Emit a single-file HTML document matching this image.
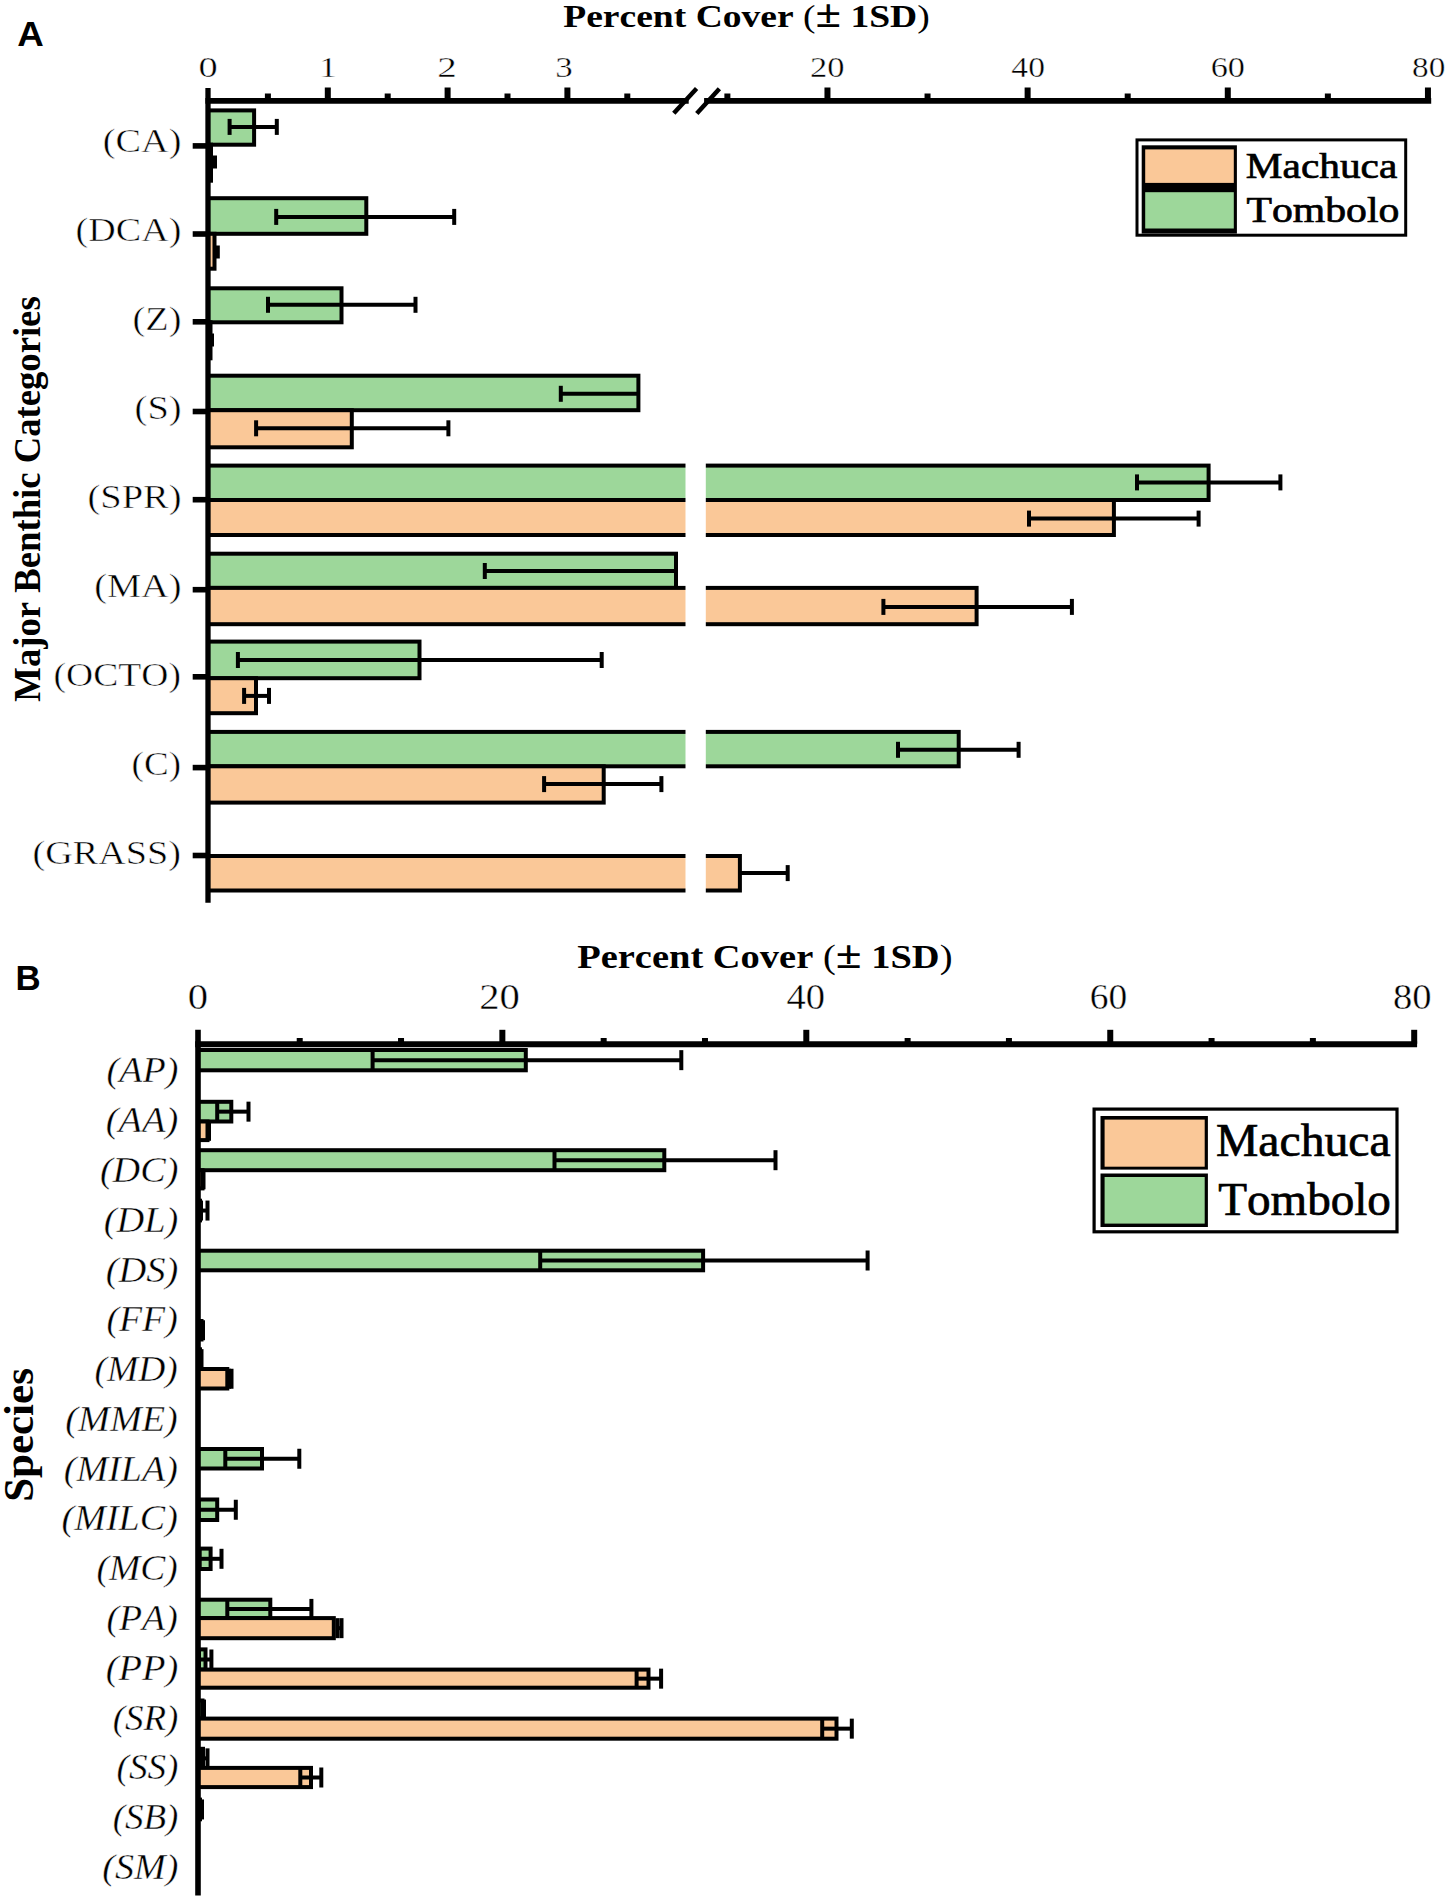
<!DOCTYPE html><html><head><meta charset="utf-8"><style>html,body{margin:0;padding:0;background:#fff;overflow:hidden;}svg{display:block;}text{font-family:"Liberation Serif",serif;fill:#000;}</style></head><body>
<svg width="1450" height="1900" viewBox="0 0 1450 1900">
<rect x="0" y="0" width="1450" height="1900" fill="#fff"/>
<rect x="208.00" y="110.40" width="46.10" height="34.30" fill="#9DD79A" stroke="#000" stroke-width="4"/>
<line x1="229.60" y1="126.90" x2="276.80" y2="126.90" stroke="#000" stroke-width="4"/>
<rect x="227.60" y="118.90" width="4" height="16" fill="#000"/>
<rect x="274.80" y="118.90" width="4" height="16" fill="#000"/>
<rect x="208.00" y="144.70" width="3.00" height="36.00" fill="#FAC898" stroke="#000" stroke-width="4"/>
<line x1="209.50" y1="162.00" x2="215.00" y2="162.00" stroke="#000" stroke-width="4"/>
<rect x="207.50" y="155.50" width="4" height="13" fill="#000"/>
<rect x="213.00" y="155.50" width="4" height="13" fill="#000"/>
<rect x="208.00" y="198.20" width="158.30" height="35.60" fill="#9DD79A" stroke="#000" stroke-width="4"/>
<line x1="276.20" y1="216.90" x2="454.20" y2="216.90" stroke="#000" stroke-width="4"/>
<rect x="274.20" y="208.90" width="4" height="16" fill="#000"/>
<rect x="452.20" y="208.90" width="4" height="16" fill="#000"/>
<rect x="208.00" y="233.80" width="6.50" height="34.90" fill="#FAC898" stroke="#000" stroke-width="4"/>
<line x1="214.50" y1="252.00" x2="217.80" y2="252.00" stroke="#000" stroke-width="4"/>
<rect x="215.80" y="245.50" width="4" height="13" fill="#000"/>
<rect x="208.00" y="288.30" width="133.50" height="34.00" fill="#9DD79A" stroke="#000" stroke-width="4"/>
<line x1="268.00" y1="304.80" x2="415.50" y2="304.80" stroke="#000" stroke-width="4"/>
<rect x="266.00" y="296.80" width="4" height="16" fill="#000"/>
<rect x="413.50" y="296.80" width="4" height="16" fill="#000"/>
<rect x="208.00" y="322.30" width="2.50" height="36.00" fill="#FAC898" stroke="#000" stroke-width="4"/>
<line x1="210.00" y1="340.00" x2="212.00" y2="340.00" stroke="#000" stroke-width="4"/>
<rect x="208.00" y="333.50" width="4" height="13" fill="#000"/>
<rect x="210.00" y="333.50" width="4" height="13" fill="#000"/>
<rect x="208.00" y="375.70" width="430.40" height="34.50" fill="#9DD79A" stroke="#000" stroke-width="4"/>
<line x1="560.80" y1="393.80" x2="638.40" y2="393.80" stroke="#000" stroke-width="4"/>
<rect x="558.80" y="385.80" width="4" height="16" fill="#000"/>
<rect x="208.00" y="410.20" width="143.80" height="37.10" fill="#FAC898" stroke="#000" stroke-width="4"/>
<line x1="256.10" y1="428.30" x2="448.40" y2="428.30" stroke="#000" stroke-width="4"/>
<rect x="254.10" y="420.30" width="4" height="16" fill="#000"/>
<rect x="446.40" y="420.30" width="4" height="16" fill="#000"/>
<rect x="208.00" y="465.60" width="1000.60" height="34.40" fill="#9DD79A" stroke="#000" stroke-width="4"/>
<line x1="1137.00" y1="482.40" x2="1280.40" y2="482.40" stroke="#000" stroke-width="4"/>
<rect x="1135.00" y="474.40" width="4" height="16" fill="#000"/>
<rect x="1278.40" y="474.40" width="4" height="16" fill="#000"/>
<rect x="208.00" y="500.00" width="905.90" height="35.00" fill="#FAC898" stroke="#000" stroke-width="4"/>
<line x1="1029.00" y1="518.60" x2="1198.60" y2="518.60" stroke="#000" stroke-width="4"/>
<rect x="1027.00" y="510.60" width="4" height="16" fill="#000"/>
<rect x="1196.60" y="510.60" width="4" height="16" fill="#000"/>
<rect x="208.00" y="553.70" width="468.00" height="34.20" fill="#9DD79A" stroke="#000" stroke-width="4"/>
<line x1="484.80" y1="571.00" x2="676.00" y2="571.00" stroke="#000" stroke-width="4"/>
<rect x="482.80" y="563.00" width="4" height="16" fill="#000"/>
<rect x="208.00" y="587.90" width="768.60" height="36.30" fill="#FAC898" stroke="#000" stroke-width="4"/>
<line x1="883.40" y1="606.90" x2="1071.90" y2="606.90" stroke="#000" stroke-width="4"/>
<rect x="881.40" y="598.90" width="4" height="16" fill="#000"/>
<rect x="1069.90" y="598.90" width="4" height="16" fill="#000"/>
<rect x="208.00" y="641.60" width="211.50" height="36.60" fill="#9DD79A" stroke="#000" stroke-width="4"/>
<line x1="237.90" y1="660.00" x2="601.70" y2="660.00" stroke="#000" stroke-width="4"/>
<rect x="235.90" y="652.00" width="4" height="16" fill="#000"/>
<rect x="599.70" y="652.00" width="4" height="16" fill="#000"/>
<rect x="208.00" y="678.20" width="48.00" height="35.00" fill="#FAC898" stroke="#000" stroke-width="4"/>
<line x1="244.10" y1="695.90" x2="269.00" y2="695.90" stroke="#000" stroke-width="4"/>
<rect x="242.10" y="687.90" width="4" height="16" fill="#000"/>
<rect x="267.00" y="687.90" width="4" height="16" fill="#000"/>
<rect x="208.00" y="731.90" width="750.70" height="34.40" fill="#9DD79A" stroke="#000" stroke-width="4"/>
<line x1="898.00" y1="749.80" x2="1018.60" y2="749.80" stroke="#000" stroke-width="4"/>
<rect x="896.00" y="741.80" width="4" height="16" fill="#000"/>
<rect x="1016.60" y="741.80" width="4" height="16" fill="#000"/>
<rect x="208.00" y="766.30" width="395.70" height="36.30" fill="#FAC898" stroke="#000" stroke-width="4"/>
<line x1="544.10" y1="784.10" x2="661.40" y2="784.10" stroke="#000" stroke-width="4"/>
<rect x="542.10" y="776.10" width="4" height="16" fill="#000"/>
<rect x="659.40" y="776.10" width="4" height="16" fill="#000"/>
<rect x="208.00" y="856.00" width="531.90" height="34.50" fill="#FAC898" stroke="#000" stroke-width="4"/>
<line x1="739.90" y1="873.10" x2="787.70" y2="873.10" stroke="#000" stroke-width="4"/>
<rect x="785.70" y="865.10" width="4" height="16" fill="#000"/>
<rect x="685.5" y="106" width="20.3" height="790" fill="#fff"/>
<line x1="208.0" y1="88" x2="208.0" y2="902.7" stroke="#000" stroke-width="5.3"/>
<line x1="205.4" y1="100.9" x2="688.7" y2="100.9" stroke="#000" stroke-width="5.8"/>
<line x1="704.1" y1="100.9" x2="1431.2" y2="100.9" stroke="#000" stroke-width="5.8"/>
<line x1="673.8" y1="113.2" x2="696.6" y2="88.4" stroke="#000" stroke-width="4.5"/>
<line x1="696.8" y1="113.4" x2="719.4" y2="88.8" stroke="#000" stroke-width="4.5"/>
<rect x="324.80" y="87.5" width="6" height="13" fill="#000"/>
<rect x="444.60" y="87.5" width="6" height="13" fill="#000"/>
<rect x="564.40" y="87.5" width="6" height="13" fill="#000"/>
<rect x="824.46" y="87.5" width="6" height="13" fill="#000"/>
<rect x="1024.62" y="87.5" width="6" height="13" fill="#000"/>
<rect x="1224.78" y="87.5" width="6" height="13" fill="#000"/>
<rect x="1424.94" y="87.5" width="6" height="13" fill="#000"/>
<rect x="264.90" y="93.5" width="6" height="7" fill="#000"/>
<rect x="384.70" y="93.5" width="6" height="7" fill="#000"/>
<rect x="504.50" y="93.5" width="6" height="7" fill="#000"/>
<rect x="624.30" y="93.5" width="6" height="7" fill="#000"/>
<rect x="724.38" y="93.5" width="6" height="7" fill="#000"/>
<rect x="924.54" y="93.5" width="6" height="7" fill="#000"/>
<rect x="1124.70" y="93.5" width="6" height="7" fill="#000"/>
<rect x="1324.86" y="93.5" width="6" height="7" fill="#000"/>
<rect x="192.7" y="143.10" width="14" height="5.6" fill="#000"/>
<rect x="192.7" y="231.20" width="14" height="5.6" fill="#000"/>
<rect x="192.7" y="319.00" width="14" height="5.6" fill="#000"/>
<rect x="192.7" y="408.70" width="14" height="5.6" fill="#000"/>
<rect x="192.7" y="496.90" width="14" height="5.6" fill="#000"/>
<rect x="192.7" y="586.90" width="14" height="5.6" fill="#000"/>
<rect x="192.7" y="674.00" width="14" height="5.6" fill="#000"/>
<rect x="192.7" y="764.80" width="14" height="5.6" fill="#000"/>
<rect x="192.7" y="852.70" width="14" height="5.6" fill="#000"/>
<text transform="translate(208.00,77.30) scale(1.2804,1)" text-anchor="middle" style="font-size:30px;font-kerning:none;stroke:#fff;stroke-width:0.4px;">0</text>
<text transform="translate(327.90,77.30) scale(1.1897,1)" text-anchor="middle" style="font-size:30px;font-kerning:none;stroke:#fff;stroke-width:0.4px;">1</text>
<text transform="translate(446.90,77.30) scale(1.3024,1)" text-anchor="middle" style="font-size:30px;font-kerning:none;stroke:#fff;stroke-width:0.4px;">2</text>
<text transform="translate(564.00,77.30) scale(1.1635,1)" text-anchor="middle" style="font-size:30px;font-kerning:none;stroke:#fff;stroke-width:0.4px;">3</text>
<text transform="translate(827.16,77.30) scale(1.1499,1)" text-anchor="middle" style="font-size:30px;font-kerning:none;stroke:#fff;stroke-width:0.4px;">20</text>
<text transform="translate(1028.12,77.30) scale(1.1176,1)" text-anchor="middle" style="font-size:30px;font-kerning:none;stroke:#fff;stroke-width:0.4px;">40</text>
<text transform="translate(1227.78,77.30) scale(1.1429,1)" text-anchor="middle" style="font-size:30px;font-kerning:none;stroke:#fff;stroke-width:0.4px;">60</text>
<text transform="translate(1428.64,77.30) scale(1.1081,1)" text-anchor="middle" style="font-size:30px;font-kerning:none;stroke:#fff;stroke-width:0.4px;">80</text>
<text transform="translate(181.40,152.40) scale(1.1378,1)" text-anchor="end" style="font-size:33.6px;font-kerning:none;stroke:#fff;stroke-width:0.5px;">(CA)</text>
<text transform="translate(181.40,241.31) scale(1.1345,1)" text-anchor="end" style="font-size:33.6px;font-kerning:none;stroke:#fff;stroke-width:0.5px;">(DCA)</text>
<text transform="translate(181.40,330.22) scale(1.1387,1)" text-anchor="end" style="font-size:33.6px;font-kerning:none;stroke:#fff;stroke-width:0.5px;">(Z)</text>
<text transform="translate(181.60,419.13) scale(1.1443,1)" text-anchor="end" style="font-size:33.6px;font-kerning:none;stroke:#fff;stroke-width:0.5px;">(S)</text>
<text transform="translate(181.60,508.04) scale(1.1454,1)" text-anchor="end" style="font-size:33.6px;font-kerning:none;stroke:#fff;stroke-width:0.5px;">(SPR)</text>
<text transform="translate(181.60,596.95) scale(1.1434,1)" text-anchor="end" style="font-size:33.6px;font-kerning:none;stroke:#fff;stroke-width:0.5px;">(MA)</text>
<text transform="translate(181.00,685.86) scale(1.1198,1)" text-anchor="end" style="font-size:33.6px;font-kerning:none;stroke:#fff;stroke-width:0.5px;">(OCTO)</text>
<text transform="translate(181.00,774.77) scale(1.1033,1)" text-anchor="end" style="font-size:33.6px;font-kerning:none;stroke:#fff;stroke-width:0.5px;">(C)</text>
<text transform="translate(181.00,863.68) scale(1.1361,1)" text-anchor="end" style="font-size:33.6px;font-kerning:none;stroke:#fff;stroke-width:0.5px;">(GRASS)</text>
<text transform="translate(746.50,26.70) scale(1.1923,1)" text-anchor="middle" style="font-size:31.5px;font-kerning:none;font-weight:bold;">Percent Cover <tspan style="font-weight:normal">(</tspan><tspan style="font-size:39px">±</tspan> 1SD<tspan style="font-weight:normal">)</tspan></text>
<text transform="translate(39.70,499.00) rotate(-90) scale(0.9917,1)" text-anchor="middle" style="font-size:37px;font-kerning:none;font-weight:bold;">Major Benthic Categories</text>
<text transform="translate(17.30,46.00) scale(1.0211,1)" text-anchor="start" style="font-size:36px;font-kerning:none;font-weight:bold;font-family:'Liberation Sans',sans-serif;">A</text>
<rect x="1137" y="139.9" width="268.7" height="95.3" fill="#fff" stroke="#000" stroke-width="3"/>
<rect x="1141.7" y="145.3" width="95.2" height="88.3" fill="#000"/>
<rect x="1145.2" y="149.4" width="88.6" height="33.5" fill="#FAC898"/>
<rect x="1145.2" y="192.2" width="88.6" height="36.3" fill="#9DD79A"/>
<text transform="translate(1245.80,177.80) scale(1.1482,1)" text-anchor="start" style="font-size:36px;font-kerning:none;stroke:#000;stroke-width:0.7px;">Machuca</text>
<text transform="translate(1246.40,222.20) scale(1.1590,1)" text-anchor="start" style="font-size:36px;font-kerning:none;stroke:#000;stroke-width:0.7px;">Tombolo</text>
<rect x="198.00" y="1050.00" width="327.80" height="20.30" fill="#9DD79A" stroke="#000" stroke-width="4"/>
<line x1="372.60" y1="1060.15" x2="681.30" y2="1060.15" stroke="#000" stroke-width="4"/>
<rect x="370.60" y="1050.15" width="4" height="20" fill="#000"/>
<rect x="679.30" y="1050.15" width="4" height="20" fill="#000"/>
<rect x="198.00" y="1101.80" width="33.30" height="19.70" fill="#9DD79A" stroke="#000" stroke-width="4"/>
<line x1="217.20" y1="1111.65" x2="248.50" y2="1111.65" stroke="#000" stroke-width="4"/>
<rect x="215.20" y="1101.65" width="4" height="20" fill="#000"/>
<rect x="246.50" y="1101.65" width="4" height="20" fill="#000"/>
<rect x="198.00" y="1121.50" width="9.50" height="18.60" fill="#FAC898" stroke="#000" stroke-width="4"/>
<line x1="207.50" y1="1130.80" x2="209.00" y2="1130.80" stroke="#000" stroke-width="4"/>
<rect x="207.00" y="1120.80" width="4" height="20" fill="#000"/>
<rect x="198.00" y="1150.20" width="466.30" height="20.00" fill="#9DD79A" stroke="#000" stroke-width="4"/>
<line x1="554.50" y1="1160.20" x2="775.50" y2="1160.20" stroke="#000" stroke-width="4"/>
<rect x="552.50" y="1150.20" width="4" height="20" fill="#000"/>
<rect x="773.50" y="1150.20" width="4" height="20" fill="#000"/>
<rect x="198.00" y="1170.20" width="4.50" height="18.20" fill="#FAC898" stroke="#000" stroke-width="4"/>
<line x1="202.50" y1="1179.30" x2="203.50" y2="1179.30" stroke="#000" stroke-width="4"/>
<rect x="201.50" y="1169.30" width="4" height="20" fill="#000"/>
<rect x="198.00" y="1200.70" width="2.00" height="19.70" fill="#9DD79A" stroke="#000" stroke-width="4"/>
<line x1="201.00" y1="1210.55" x2="207.50" y2="1210.55" stroke="#000" stroke-width="4"/>
<rect x="199.00" y="1200.55" width="4" height="20" fill="#000"/>
<rect x="205.50" y="1200.55" width="4" height="20" fill="#000"/>
<rect x="198.00" y="1250.70" width="505.10" height="19.60" fill="#9DD79A" stroke="#000" stroke-width="4"/>
<line x1="540.20" y1="1260.50" x2="867.60" y2="1260.50" stroke="#000" stroke-width="4"/>
<rect x="538.20" y="1250.50" width="4" height="20" fill="#000"/>
<rect x="865.60" y="1250.50" width="4" height="20" fill="#000"/>
<rect x="198.00" y="1321.00" width="3.50" height="18.50" fill="#FAC898" stroke="#000" stroke-width="4"/>
<line x1="201.50" y1="1330.25" x2="203.00" y2="1330.25" stroke="#000" stroke-width="4"/>
<rect x="201.00" y="1320.25" width="4" height="20" fill="#000"/>
<rect x="198.00" y="1349.30" width="2.00" height="19.70" fill="#9DD79A" stroke="#000" stroke-width="4"/>
<line x1="200.00" y1="1359.15" x2="201.50" y2="1359.15" stroke="#000" stroke-width="4"/>
<rect x="199.50" y="1349.15" width="4" height="20" fill="#000"/>
<rect x="198.00" y="1369.00" width="29.30" height="19.50" fill="#FAC898" stroke="#000" stroke-width="4"/>
<line x1="229.00" y1="1378.75" x2="231.50" y2="1378.75" stroke="#000" stroke-width="4"/>
<rect x="227.00" y="1368.75" width="4" height="20" fill="#000"/>
<rect x="229.50" y="1368.75" width="4" height="20" fill="#000"/>
<rect x="198.00" y="1449.00" width="64.00" height="19.50" fill="#9DD79A" stroke="#000" stroke-width="4"/>
<line x1="225.30" y1="1458.75" x2="299.30" y2="1458.75" stroke="#000" stroke-width="4"/>
<rect x="223.30" y="1448.75" width="4" height="20" fill="#000"/>
<rect x="297.30" y="1448.75" width="4" height="20" fill="#000"/>
<rect x="198.00" y="1499.50" width="19.20" height="20.50" fill="#9DD79A" stroke="#000" stroke-width="4"/>
<line x1="198.60" y1="1509.75" x2="235.80" y2="1509.75" stroke="#000" stroke-width="4"/>
<rect x="196.60" y="1499.75" width="4" height="20" fill="#000"/>
<rect x="233.80" y="1499.75" width="4" height="20" fill="#000"/>
<rect x="198.00" y="1548.60" width="12.60" height="20.40" fill="#9DD79A" stroke="#000" stroke-width="4"/>
<line x1="199.70" y1="1558.80" x2="221.50" y2="1558.80" stroke="#000" stroke-width="4"/>
<rect x="197.70" y="1548.80" width="4" height="20" fill="#000"/>
<rect x="219.50" y="1548.80" width="4" height="20" fill="#000"/>
<rect x="198.00" y="1599.70" width="72.30" height="18.40" fill="#9DD79A" stroke="#000" stroke-width="4"/>
<line x1="227.30" y1="1608.90" x2="311.40" y2="1608.90" stroke="#000" stroke-width="4"/>
<rect x="225.30" y="1598.90" width="4" height="20" fill="#000"/>
<rect x="309.40" y="1598.90" width="4" height="20" fill="#000"/>
<rect x="198.00" y="1618.10" width="135.80" height="20.10" fill="#FAC898" stroke="#000" stroke-width="4"/>
<line x1="337.50" y1="1628.15" x2="341.50" y2="1628.15" stroke="#000" stroke-width="4"/>
<rect x="335.50" y="1618.15" width="4" height="20" fill="#000"/>
<rect x="339.50" y="1618.15" width="4" height="20" fill="#000"/>
<rect x="198.00" y="1649.40" width="7.50" height="20.20" fill="#9DD79A" stroke="#000" stroke-width="4"/>
<line x1="199.00" y1="1659.50" x2="211.40" y2="1659.50" stroke="#000" stroke-width="4"/>
<rect x="197.00" y="1649.50" width="4" height="20" fill="#000"/>
<rect x="209.40" y="1649.50" width="4" height="20" fill="#000"/>
<rect x="198.00" y="1669.60" width="450.50" height="18.10" fill="#FAC898" stroke="#000" stroke-width="4"/>
<line x1="636.60" y1="1678.65" x2="661.10" y2="1678.65" stroke="#000" stroke-width="4"/>
<rect x="634.60" y="1668.65" width="4" height="20" fill="#000"/>
<rect x="659.10" y="1668.65" width="4" height="20" fill="#000"/>
<rect x="198.00" y="1700.50" width="4.50" height="18.10" fill="#9DD79A" stroke="#000" stroke-width="4"/>
<line x1="202.50" y1="1709.55" x2="204.00" y2="1709.55" stroke="#000" stroke-width="4"/>
<rect x="202.00" y="1699.55" width="4" height="20" fill="#000"/>
<rect x="198.00" y="1718.60" width="638.50" height="20.10" fill="#FAC898" stroke="#000" stroke-width="4"/>
<line x1="822.20" y1="1728.65" x2="851.80" y2="1728.65" stroke="#000" stroke-width="4"/>
<rect x="820.20" y="1718.65" width="4" height="20" fill="#000"/>
<rect x="849.80" y="1718.65" width="4" height="20" fill="#000"/>
<rect x="198.00" y="1748.80" width="5.00" height="19.10" fill="#9DD79A" stroke="#000" stroke-width="4"/>
<line x1="199.00" y1="1758.35" x2="207.50" y2="1758.35" stroke="#000" stroke-width="4"/>
<rect x="197.00" y="1748.35" width="4" height="20" fill="#000"/>
<rect x="205.50" y="1748.35" width="4" height="20" fill="#000"/>
<rect x="198.00" y="1767.90" width="113.00" height="19.20" fill="#FAC898" stroke="#000" stroke-width="4"/>
<line x1="300.30" y1="1777.50" x2="321.30" y2="1777.50" stroke="#000" stroke-width="4"/>
<rect x="298.30" y="1767.50" width="4" height="20" fill="#000"/>
<rect x="319.30" y="1767.50" width="4" height="20" fill="#000"/>
<rect x="198.00" y="1799.60" width="2.00" height="19.70" fill="#9DD79A" stroke="#000" stroke-width="4"/>
<line x1="200.00" y1="1809.45" x2="202.00" y2="1809.45" stroke="#000" stroke-width="4"/>
<rect x="200.00" y="1799.45" width="4" height="20" fill="#000"/>
<line x1="198.0" y1="1029.7" x2="198.0" y2="1895.5" stroke="#000" stroke-width="5.6"/>
<line x1="195.2" y1="1044.3" x2="1417.1" y2="1044.3" stroke="#000" stroke-width="6"/>
<rect x="296.72" y="1038" width="6" height="6" fill="#000"/>
<rect x="398.03" y="1038" width="6" height="6" fill="#000"/>
<rect x="499.35" y="1029.8" width="6" height="14" fill="#000"/>
<rect x="600.67" y="1038" width="6" height="6" fill="#000"/>
<rect x="701.98" y="1038" width="6" height="6" fill="#000"/>
<rect x="803.30" y="1029.8" width="6" height="14" fill="#000"/>
<rect x="904.62" y="1038" width="6" height="6" fill="#000"/>
<rect x="1005.93" y="1038" width="6" height="6" fill="#000"/>
<rect x="1107.25" y="1029.8" width="6" height="14" fill="#000"/>
<rect x="1208.57" y="1038" width="6" height="6" fill="#000"/>
<rect x="1309.88" y="1038" width="6" height="6" fill="#000"/>
<rect x="1411.20" y="1029.8" width="6" height="14" fill="#000"/>
<text transform="translate(197.80,1008.80) scale(1.1242,1)" text-anchor="middle" style="font-size:36.2px;font-kerning:none;stroke:#fff;stroke-width:0.4px;">0</text>
<text transform="translate(499.55,1008.80) scale(1.1233,1)" text-anchor="middle" style="font-size:36.2px;font-kerning:none;stroke:#fff;stroke-width:0.4px;">20</text>
<text transform="translate(805.80,1008.80) scale(1.0664,1)" text-anchor="middle" style="font-size:36.2px;font-kerning:none;stroke:#fff;stroke-width:0.4px;">40</text>
<text transform="translate(1108.45,1008.80) scale(1.0345,1)" text-anchor="middle" style="font-size:36.2px;font-kerning:none;stroke:#fff;stroke-width:0.4px;">60</text>
<text transform="translate(1412.20,1008.80) scale(1.0666,1)" text-anchor="middle" style="font-size:36.2px;font-kerning:none;stroke:#fff;stroke-width:0.4px;">80</text>
<text transform="translate(178.40,1082.40) scale(1.0421,1)" text-anchor="end" style="font-size:36.5px;font-kerning:none;font-style:italic;stroke:#fff;stroke-width:0.4px;">(AP)</text>
<text transform="translate(178.40,1132.18) scale(1.0547,1)" text-anchor="end" style="font-size:36.5px;font-kerning:none;font-style:italic;stroke:#fff;stroke-width:0.4px;">(AA)</text>
<text transform="translate(178.40,1181.96) scale(1.0469,1)" text-anchor="end" style="font-size:36.5px;font-kerning:none;font-style:italic;stroke:#fff;stroke-width:0.4px;">(DC)</text>
<text transform="translate(178.40,1231.74) scale(1.0525,1)" text-anchor="end" style="font-size:36.5px;font-kerning:none;font-style:italic;stroke:#fff;stroke-width:0.4px;">(DL)</text>
<text transform="translate(178.40,1281.52) scale(1.0547,1)" text-anchor="end" style="font-size:36.5px;font-kerning:none;font-style:italic;stroke:#fff;stroke-width:0.4px;">(DS)</text>
<text transform="translate(177.80,1331.30) scale(1.0363,1)" text-anchor="end" style="font-size:36.5px;font-kerning:none;font-style:italic;stroke:#fff;stroke-width:0.4px;">(FF)</text>
<text transform="translate(177.80,1381.08) scale(1.0280,1)" text-anchor="end" style="font-size:36.5px;font-kerning:none;font-style:italic;stroke:#fff;stroke-width:0.4px;">(MD)</text>
<text transform="translate(177.80,1430.86) scale(1.0474,1)" text-anchor="end" style="font-size:36.5px;font-kerning:none;font-style:italic;stroke:#fff;stroke-width:0.4px;">(MME)</text>
<text transform="translate(177.80,1480.64) scale(1.0428,1)" text-anchor="end" style="font-size:36.5px;font-kerning:none;font-style:italic;stroke:#fff;stroke-width:0.4px;">(MILA)</text>
<text transform="translate(177.80,1530.42) scale(1.0420,1)" text-anchor="end" style="font-size:36.5px;font-kerning:none;font-style:italic;stroke:#fff;stroke-width:0.4px;">(MILC)</text>
<text transform="translate(177.80,1580.20) scale(1.0287,1)" text-anchor="end" style="font-size:36.5px;font-kerning:none;font-style:italic;stroke:#fff;stroke-width:0.4px;">(MC)</text>
<text transform="translate(177.80,1629.98) scale(1.0363,1)" text-anchor="end" style="font-size:36.5px;font-kerning:none;font-style:italic;stroke:#fff;stroke-width:0.4px;">(PA)</text>
<text transform="translate(178.40,1679.76) scale(1.0547,1)" text-anchor="end" style="font-size:36.5px;font-kerning:none;font-style:italic;stroke:#fff;stroke-width:0.4px;">(PP)</text>
<text transform="translate(178.40,1729.54) scale(1.0130,1)" text-anchor="end" style="font-size:36.5px;font-kerning:none;font-style:italic;stroke:#fff;stroke-width:0.4px;">(SR)</text>
<text transform="translate(178.40,1779.32) scale(1.0172,1)" text-anchor="end" style="font-size:36.5px;font-kerning:none;font-style:italic;stroke:#fff;stroke-width:0.4px;">(SS)</text>
<text transform="translate(178.40,1829.10) scale(1.0130,1)" text-anchor="end" style="font-size:36.5px;font-kerning:none;font-style:italic;stroke:#fff;stroke-width:0.4px;">(SB)</text>
<text transform="translate(178.40,1878.88) scale(1.0428,1)" text-anchor="end" style="font-size:36.5px;font-kerning:none;font-style:italic;stroke:#fff;stroke-width:0.4px;">(SM)</text>
<text transform="translate(764.80,968.20) scale(1.1491,1)" text-anchor="middle" style="font-size:33.5px;font-kerning:none;font-weight:bold;">Percent Cover <tspan style="font-weight:normal">(</tspan><tspan style="font-size:41px">±</tspan> 1SD<tspan style="font-weight:normal">)</tspan></text>
<text transform="translate(33.40,1435.00) rotate(-90) scale(0.9999,1)" text-anchor="middle" style="font-size:43px;font-kerning:none;font-weight:bold;">Species</text>
<text transform="translate(15.60,989.50) scale(0.9959,1)" text-anchor="start" style="font-size:35px;font-kerning:none;font-weight:bold;font-family:'Liberation Sans',sans-serif;">B</text>
<rect x="1094.1" y="1109.1" width="302.9" height="122.7" fill="#fff" stroke="#000" stroke-width="3.2"/>
<rect x="1100.5" y="1116" width="107.4" height="53.6" fill="#000"/>
<rect x="1104.6" y="1119.6" width="100.1" height="47.1" fill="#FAC898"/>
<rect x="1100.5" y="1173.5" width="107.4" height="53.5" fill="#000"/>
<rect x="1104.6" y="1177" width="100.1" height="46.6" fill="#9DD79A"/>
<text transform="translate(1216.00,1156.00) scale(1.0474,1)" text-anchor="start" style="font-size:45.5px;font-kerning:none;stroke:#000;stroke-width:0.7px;">Machuca</text>
<text transform="translate(1218.20,1214.50) scale(1.0355,1)" text-anchor="start" style="font-size:45.5px;font-kerning:none;stroke:#000;stroke-width:0.7px;">Tombolo</text>
</svg></body></html>
